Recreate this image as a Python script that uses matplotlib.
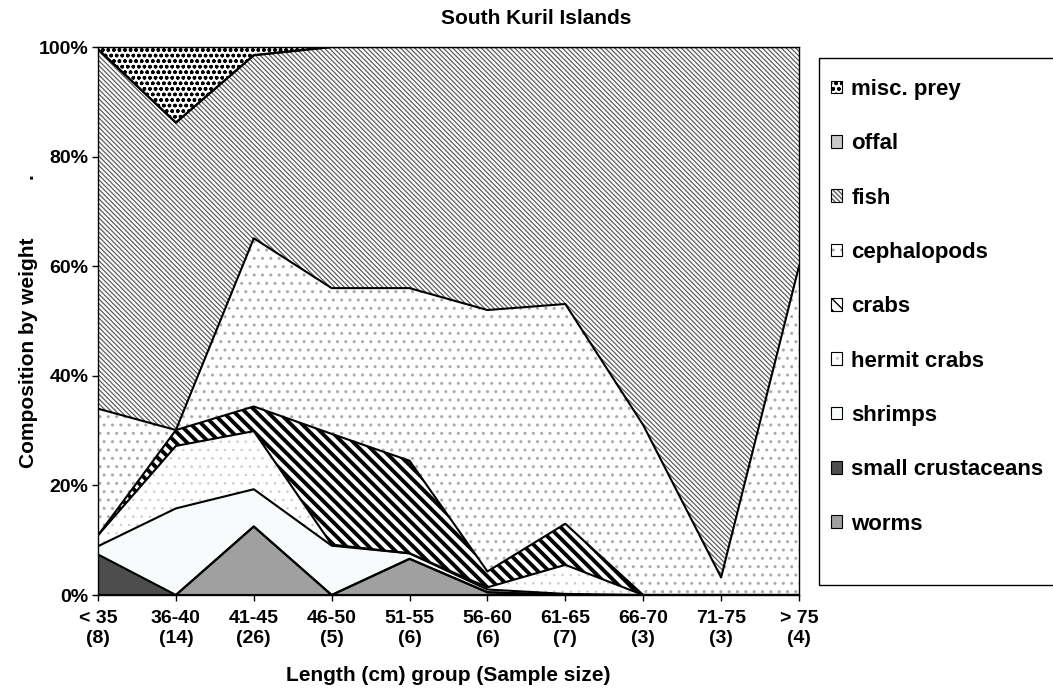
import numpy as np
import matplotlib
matplotlib.use("Agg")
import matplotlib.pyplot as plt
from matplotlib.patches import Patch, Rectangle
from matplotlib.legend_handler import HandlerTuple

plt.rcParams['font.family'] = ['Liberation Sans', 'DejaVu Sans']
plt.rcParams['font.weight'] = 'bold'
plt.rcParams['hatch.linewidth'] = 1.0

# length groups (cm) and sample sizes
groups = ['< 35', '36-40', '41-45', '46-50', '51-55', '56-60', '61-65', '66-70', '71-75', '> 75']
sample_sizes = [8, 14, 26, 5, 6, 6, 7, 3, 3, 4]

# composition by weight (%) per prey type
worms = [0.0, 0.0, 12.5, 0.0, 6.6, 0.5, 0.0, 0.0, 0.0, 0.0]
small_crustaceans = [7.4, 0.0, 0.0, 0.0, 0.0, 0.0, 0.0, 0.0, 0.0, 0.0]
shrimps = [1.5, 15.8, 6.8, 9.0, 1.0, 0.5, 0.2, 0.0, 0.0, 0.0]
hermit_crabs = [2.0, 11.4, 10.6, 0.2, 0.0, 0.4, 5.3, 0.0, 0.0, 0.0]
crabs = [0.0, 2.9, 4.5, 20.2, 16.9, 2.9, 7.5, 0.0, 0.0, 0.0]
cephalopods = [23.1, 0.0, 30.7, 26.6, 31.5, 47.7, 40.1, 31.0, 3.2, 60.0]
fish = [65.6, 56.1, 33.4, 44.0, 44.0, 48.0, 46.9, 69.0, 96.8, 40.0]
offal = [0.0, 0.0, 0.0, 0.0, 0.0, 0.0, 0.0, 0.0, 0.0, 0.0]
misc_prey = [0.4, 13.8, 1.5, 0.0, 0.0, 0.0, 0.0, 0.0, 0.0, 0.0]

# bottom to top: (label, values, face, hatch, hatch colour, hatch width)
series = [
    ("worms", worms, '#a0a0a0', None, '#a0a0a0', 1.0),
    ("small crustaceans", small_crustaceans, '#4d4d4d', None, '#4d4d4d', 1.0),
    ("shrimps", shrimps, '#f7fbfb', None, '#f7fbfb', 1.0),
    ("hermit crabs", hermit_crabs, 'white', '..', '#cccccc', 0.6),
    ("crabs", crabs, 'white', '\\\\\\', 'black', 2.8),
    ("cephalopods", cephalopods, 'white', '..', '#aaaaaa', 1.0),
    ("fish", fish, 'white', '\\' * 7, '#5e5e5e', 0.9),
    ("offal", offal, '#c8c8c8', None, '#c8c8c8', 1.0),
    ("misc. prey", misc_prey, 'white', 'ooo', 'black', 1.0),
]

fig = plt.figure(figsize=(10.53, 6.9), dpi=100)
ax = fig.add_axes([98 / 1053, 1 - 595 / 690, 701 / 1053, 548 / 690])

x = np.arange(len(groups))
bottom = np.zeros(len(groups))
handles = []
tops = []
for label, vals, fc, hatch, hc, hlw in series:
    top = bottom + np.array(vals)
    poly = ax.fill(np.r_[x, x[::-1]], np.r_[top, bottom[::-1]],
                   facecolor=fc, edgecolor=hc, linewidth=0, hatch=hatch)[0]
    icon = Patch(facecolor=fc, edgecolor=hc, linewidth=0, hatch=hatch)
    for p in (poly, icon):
        if hasattr(p, 'set_hatch_linewidth'):
            p.set_hatch_linewidth(hlw)
    border = Patch(facecolor='none', edgecolor='black', linewidth=0.8)
    handles.append(((icon, border), label))
    tops.append(top)
    bottom = top

# series outlines
ax.plot(x, np.zeros(len(x)), color='black', lw=1.5, zorder=3)
for top in tops:
    ax.plot(x, top, color='black', lw=1.5, zorder=3)

ax.set_xlim(0, len(groups) - 1)
ax.set_ylim(0, 100)
ax.set_xticks(x)
ax.set_xticklabels([f"{g}\n({n})" for g, n in zip(groups, sample_sizes)],
                   fontsize=14, linespacing=1.2)
ax.set_yticks(np.arange(0, 101, 20))
ax.set_yticklabels([f"{v}%" for v in range(0, 101, 20)], fontsize=14)
ax.tick_params(axis='both', direction='out', length=4, width=1, color='black')
ax.tick_params(axis='x', pad=7)
ax.tick_params(axis='y', pad=3)
for s in ax.spines.values():
    s.set_linewidth(1.0)
    s.set_color('black')

ax.set_xlabel("Length (cm) group (Sample size)", fontsize=15, fontweight='bold', labelpad=14)
ax.set_ylabel("Composition by weight          .", fontsize=15, fontweight='bold')
ax.yaxis.set_label_coords(-0.086, 0.5)

fig.text(536 / 1053, 1 - 18 / 690, "South Kuril Islands", fontsize=15,
         fontweight='bold', ha='center', va='center')

# legend box (runs off the right edge as in the original)
fig.patches.append(Rectangle((819 / 1053, 1 - 585 / 690), 0.3, 527 / 690,
                             transform=fig.transFigure, facecolor='white',
                             edgecolor='black', linewidth=1.0, zorder=0))
leg = fig.legend([h for h, _ in handles[::-1]], [l for _, l in handles[::-1]],
                 handler_map={tuple: HandlerTuple(ndivide=1)},
                 loc='upper left', bbox_to_anchor=(831 / 1053, 1 - 79 / 690),
                 frameon=False, fontsize=16, borderpad=0, borderaxespad=0,
                 handlelength=0.5, handleheight=0.5, handletextpad=0.42,
                 labelspacing=1.5)
for t in leg.get_texts():
    t.set_fontweight('bold')

fig.savefig("out.png", dpi=100)
